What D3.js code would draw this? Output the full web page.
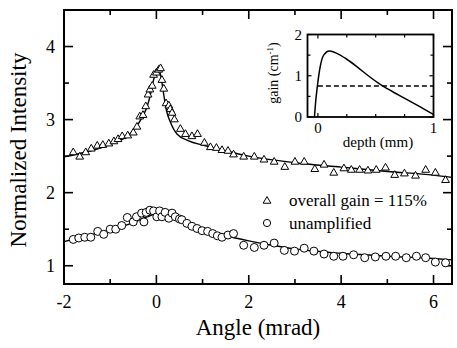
<!DOCTYPE html>
<html>
<head>
<meta charset="utf-8">
<title></title>
<style>
  body { margin: 0; background: #fff; }
  svg text { font-family: 'Liberation Serif', 'DejaVu Serif', serif; }
</style>
</head>
<body>
<script src="https://cdnjs.cloudflare.com/ajax/libs/d3/7.8.5/d3.min.js"></script>
<script>
// amplified (overall gain = 115%) - triangles
var ampX = [-1.80,-1.66,-1.53,-1.41,-1.28,-1.16,-1.03,-0.92,-0.83,-0.74,-0.62,-0.50,-0.42,-0.36,-0.29,-0.23,-0.18,-0.14,-0.09,-0.06,
            0.00,0.05,0.09,0.12,0.16,0.21,0.27,0.30,0.34,0.39,0.52,0.63,0.77,0.89,1.04,1.17,1.30,1.42,1.55,1.67,
            1.89,2.12,2.33,2.55,2.78,3.00,3.20,3.43,3.63,3.84,4.06,4.22,4.40,4.58,4.76,4.96,5.16,5.37,5.61,5.83,6.04,6.26];
var ampY = [2.55,2.49,2.55,2.60,2.64,2.65,2.67,2.70,2.73,2.77,2.78,2.82,2.90,3.04,3.06,3.18,3.34,3.41,3.46,3.61,
            3.64,3.68,3.70,3.54,3.42,3.22,3.19,3.14,3.09,3.00,2.87,2.80,2.77,2.80,2.68,2.62,2.61,2.58,2.57,2.52,
            2.49,2.49,2.45,2.42,2.35,2.42,2.42,2.32,2.38,2.27,2.33,2.31,2.31,2.30,2.31,2.34,2.24,2.26,2.23,2.31,2.27,2.17];
// unamplified - circles
var unX = [-1.80,-1.68,-1.55,-1.42,-1.27,-1.14,-1.00,-0.88,-0.75,-0.63,-0.50,-0.43,-0.32,-0.27,-0.22,-0.14,-0.06,0.01,0.07,0.12,
           0.19,0.27,0.34,0.41,0.50,0.55,0.66,0.77,0.88,0.99,1.11,1.22,1.32,1.42,1.55,1.67,1.89,2.12,2.33,2.55,
           2.77,2.99,3.20,3.41,3.63,3.84,4.04,4.27,4.51,4.74,4.97,5.18,5.41,5.63,5.83,6.04,6.26];
var unY = [1.36,1.38,1.39,1.39,1.47,1.43,1.50,1.50,1.55,1.66,1.60,1.67,1.72,1.60,1.73,1.76,1.75,1.67,1.75,1.67,
           1.73,1.65,1.72,1.67,1.64,1.63,1.58,1.54,1.51,1.48,1.47,1.44,1.41,1.39,1.42,1.44,1.28,1.25,1.28,1.31,
           1.21,1.20,1.24,1.20,1.16,1.13,1.13,1.15,1.11,1.12,1.13,1.13,1.11,1.13,1.11,1.05,1.04];
// fitted curves
var ampFitX = [-2,-1.5,-1,-0.5,-0.3,-0.2,-0.13,-0.07,0,0.05,0.1,0.16,0.22,0.3,0.45,0.7,1,1.5,2,3,4,5,6,6.4];
var ampFitY = [2.49,2.56,2.66,2.85,3.04,3.18,3.34,3.52,3.66,3.70,3.58,3.34,3.12,2.97,2.80,2.71,2.65,2.57,2.50,2.41,2.35,2.29,2.24,2.21];
var unFitX = [-2,-1.5,-1,-0.5,-0.2,0,0.2,0.5,1,1.5,2,2.5,3,4,5,6,6.4];
var unFitY = [1.33,1.41,1.49,1.59,1.67,1.71,1.70,1.64,1.50,1.41,1.34,1.28,1.23,1.17,1.13,1.10,1.08];
// inset: gain profile vs depth
var depth = [-0.03,-0.02,-0.01,0,0.02,0.05,0.1,0.15,0.25,0.35,0.45,0.55,0.7,0.85,1.0];
var gain  = [0,0.35,0.62,0.85,1.22,1.5,1.6,1.56,1.40,1.19,0.97,0.77,0.53,0.30,0.06];
var gainLevel = 0.75;

var xMajor = [-2,0,2,4,6], xMinor = [-1,1,3,5];
var yMajor = [1,2,3,4], yMinor = [1.5,2.5,3.5];
var insetXMajor = [0,1], insetXMinor = [0.25,0.5,0.75];
var insetYMajor = [0,1,2], insetYMinor = [0.5,1.5];

var W = 457, H = 348;
var svg = d3.select("body").append("svg").attr("width", W).attr("height", H)
    .style("display", "block");

var box = {left: 64, top: 10, right: 452, bottom: 284};
var x = d3.scaleLinear().domain([-2, 6.4]).range([box.left, box.right]);
var y = d3.scaleLinear().domain([0.75, 4.5]).range([box.bottom, box.top]);

function ticks(g, sx, sy, xMaj, xMin, yMaj, yMin, big, small, sw) {
    var gg = g.append("g").attr("stroke", "#000").attr("stroke-width", sw);
    var x0 = sx.range()[0], x1 = sx.range()[1], y0 = sy.range()[0], y1 = sy.range()[1];
    xMaj.forEach(function (v) {
        gg.append("line").attr("x1", sx(v)).attr("x2", sx(v)).attr("y1", y0).attr("y2", y0 - big);
        gg.append("line").attr("x1", sx(v)).attr("x2", sx(v)).attr("y1", y1).attr("y2", y1 + big);
    });
    xMin.forEach(function (v) {
        gg.append("line").attr("x1", sx(v)).attr("x2", sx(v)).attr("y1", y0).attr("y2", y0 - small);
        gg.append("line").attr("x1", sx(v)).attr("x2", sx(v)).attr("y1", y1).attr("y2", y1 + small);
    });
    yMaj.forEach(function (v) {
        gg.append("line").attr("y1", sy(v)).attr("y2", sy(v)).attr("x1", x0).attr("x2", x0 + big);
        gg.append("line").attr("y1", sy(v)).attr("y2", sy(v)).attr("x1", x1).attr("x2", x1 - big);
    });
    yMin.forEach(function (v) {
        gg.append("line").attr("y1", sy(v)).attr("y2", sy(v)).attr("x1", x0).attr("x2", x0 + small);
        gg.append("line").attr("y1", sy(v)).attr("y2", sy(v)).attr("x1", x1).attr("x2", x1 - small);
    });
}

// main ticks + frame
ticks(svg, x, y, xMajor, xMinor, yMajor, yMinor, 9, 5, 1.6);
svg.append("rect").attr("x", box.left).attr("y", box.top)
    .attr("width", box.right - box.left).attr("height", box.bottom - box.top)
    .attr("fill", "none").attr("stroke", "#000").attr("stroke-width", 2);

svg.append("g").selectAll("text").data(xMajor).enter().append("text")
    .attr("x", function (d) { return x(d); }).attr("y", 308)
    .attr("text-anchor", "middle").attr("font-size", 18)
    .text(function (d) { return d; });
svg.append("g").selectAll("text").data(yMajor).enter().append("text")
    .attr("x", 55).attr("y", function (d) { return y(d) + 6; })
    .attr("text-anchor", "end").attr("font-size", 18)
    .text(function (d) { return d; });

svg.append("text").attr("x", 258).attr("y", 335).attr("text-anchor", "middle")
    .attr("font-size", 23).text("Angle (mrad)");
svg.append("text").attr("transform", "translate(26,150) rotate(-90)").attr("text-anchor", "middle")
    .attr("font-size", 23).text("Normalized Intensity");

// fits
var line = d3.line().x(function (d) { return x(d[0]); }).y(function (d) { return y(d[1]); }).curve(d3.curveMonotoneX);
svg.append("path").datum(d3.zip(ampFitX, ampFitY)).attr("d", line)
    .attr("fill", "none").attr("stroke", "#000").attr("stroke-width", 1.4);
svg.append("path").datum(d3.zip(unFitX, unFitY)).attr("d", line)
    .attr("fill", "none").attr("stroke", "#000").attr("stroke-width", 1.4);

// data points
var tri = d3.symbol(d3.symbolTriangle, 26);
svg.append("g").selectAll("path").data(d3.zip(ampX, ampY)).enter().append("path")
    .attr("d", tri)
    .attr("transform", function (d) { return "translate(" + x(d[0]) + "," + y(d[1]) + ")"; })
    .attr("fill", "#fff").attr("stroke", "#000").attr("stroke-width", 1);
svg.append("g").selectAll("circle").data(d3.zip(unX, unY)).enter().append("circle")
    .attr("cx", function (d) { return x(d[0]); }).attr("cy", function (d) { return y(d[1]); })
    .attr("r", 4)
    .attr("fill", "#fff").attr("stroke", "#000").attr("stroke-width", 1);

// legend
svg.append("path").attr("d", tri).attr("transform", "translate(267,201)")
    .attr("fill", "#fff").attr("stroke", "#000").attr("stroke-width", 1);
svg.append("text").attr("x", 289).attr("y", 206).attr("font-size", 17).text("overall gain = 115%");
svg.append("circle").attr("cx", 267).attr("cy", 223).attr("r", 3.6)
    .attr("fill", "#fff").attr("stroke", "#000").attr("stroke-width", 1);
svg.append("text").attr("x", 289).attr("y", 229).attr("font-size", 17).text("unamplified");

// inset
var ib = {left: 307.5, top: 34.5, right: 433.5, bottom: 117};
var ix = d3.scaleLinear().domain([-0.09, 1]).range([ib.left, ib.right]);
var iy = d3.scaleLinear().domain([0, 2]).range([ib.bottom, ib.top]);
svg.append("rect").attr("x", ib.left).attr("y", ib.top)
    .attr("width", ib.right - ib.left).attr("height", ib.bottom - ib.top)
    .attr("fill", "#fff").attr("stroke", "none");
ticks(svg, ix, iy, insetXMajor, insetXMinor, insetYMajor, insetYMinor, 4, 3, 1.2);
svg.append("rect").attr("x", ib.left).attr("y", ib.top)
    .attr("width", ib.right - ib.left).attr("height", ib.bottom - ib.top)
    .attr("fill", "none").attr("stroke", "#000").attr("stroke-width", 1.8);

svg.append("line").attr("x1", ix(0)).attr("x2", ix(1))
    .attr("y1", iy(gainLevel)).attr("y2", iy(gainLevel))
    .attr("stroke", "#000").attr("stroke-width", 1.5).attr("stroke-dasharray", "5,3");
var iline = d3.line().x(function (d) { return ix(d[0]); }).y(function (d) { return iy(d[1]); }).curve(d3.curveMonotoneX);
svg.append("path").datum(d3.zip(depth, gain)).attr("d", iline)
    .attr("fill", "none").attr("stroke", "#000").attr("stroke-width", 1.5);

svg.append("g").selectAll("text").data(insetXMajor).enter().append("text")
    .attr("x", function (d) { return ix(d); }).attr("y", 133)
    .attr("text-anchor", "middle").attr("font-size", 15)
    .text(function (d) { return d; });
svg.append("g").selectAll("text").data(insetYMajor).enter().append("text")
    .attr("x", 302).attr("y", function (d) { return iy(d) + 5; })
    .attr("text-anchor", "end").attr("font-size", 15)
    .text(function (d) { return d; });
svg.append("text").attr("x", 378).attr("y", 147).attr("text-anchor", "middle")
    .attr("font-size", 15).text("depth (mm)");
var gl = svg.append("text").attr("transform", "translate(278,73) rotate(-90)")
    .attr("text-anchor", "middle").attr("font-size", 14);
gl.append("tspan").text("gain (cm");
gl.append("tspan").attr("font-size", 9).attr("dy", -5).text("-1");
gl.append("tspan").attr("dy", 5).text(")");
</script>
</body>
</html>
